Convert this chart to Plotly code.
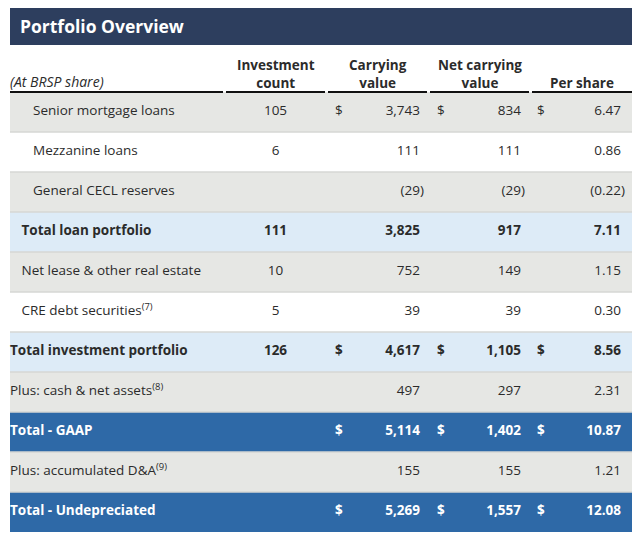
import plotly.graph_objects as go

# ---------------- data ----------------
title = "Portfolio Overview"
header_note = "(At BRSP share)"
column_headers = ["Investment<br>count", "Carrying<br>value", "Net carrying<br>value", "Per share"]

row_labels = [
    "Senior mortgage loans",
    "Mezzanine loans",
    "General CECL reserves",
    "Total loan portfolio",
    "Net lease & other real estate",
    "CRE debt securities<sup>(7)</sup>",
    "Total investment portfolio",
    "Plus: cash & net assets<sup>(8)</sup>",
    "Total - GAAP",
    "Plus: accumulated D&A<sup>(9)</sup>",
    "Total - Undepreciated",
]
investment_count = [105, 6, None, 111, 10, 5, 126, None, None, None, None]
carrying_value = [3743, 111, -29, 3825, 752, 39, 4617, 497, 5114, 155, 5269]
net_carrying_value = [834, 111, -29, 917, 149, 39, 1105, 297, 1402, 155, 1557]
per_share = [6.47, 0.86, -0.22, 7.11, 1.15, 0.30, 8.56, 2.31, 10.87, 1.21, 12.08]
show_dollar = [True, False, False, False, False, False, True, False, True, False, True]
row_kind = ["detail", "detail", "detail", "subtotal", "detail", "detail",
            "subtotal", "detail", "total", "detail", "total"]
indent_level = [2, 2, 2, 1, 1, 1, 0, 0, 0, 0, 0]

# ---------------- styles ----------------
FONT = "Open Sans"
FS = 13.5
W, H = 636, 533
NAVY = "#2D3E5E"
GRAY = "#E6E7E4"
WHITE = "#FFFFFF"
LIGHTBLUE = "#DDEBF7"
BLUE = "#2E69A7"
TXT = "#2B2B2B"
SEP = "#D6D7D4"

LEFT, RIGHT = 10, 632
ROW_TOP0, ROW_H = 92, 40
col_edges = [(10, 223), (226, 325), (328, 427), (430, 529), (532, 632)]
dollar_left = [335, 437, 537]
value_right = [420, 521, 621]

n = len(row_labels)
row_center = [ROW_TOP0 + ROW_H * i + ROW_H / 2 for i in range(n)]

# fills
fills = []
k = 0
for kind in row_kind:
    if kind == "detail":
        fills.append(GRAY if k % 2 == 0 else WHITE)
        k += 1
    else:
        fills.append(LIGHTBLUE if kind == "subtotal" else BLUE)
        k = 0

bold = [kind != "detail" for kind in row_kind]
txt_color = [WHITE if kind == "total" else TXT for kind in row_kind]


def fmt_int(v):
    if v is None:
        return ""
    s = f"{abs(v):,}"
    return f"({s})" if v < 0 else s


def fmt_dec(v):
    s = f"{abs(v):,.2f}"
    return f"({s})" if v < 0 else s


def b(s, flag):
    return f"<b>{s}</b>" if (flag and s) else s


fig = go.Figure()

# row backgrounds
fig.add_trace(go.Bar(
    orientation="h", y=row_center, x=[RIGHT - LEFT] * n, base=LEFT,
    width=ROW_H, marker=dict(color=fills, line=dict(width=0)),
    hoverinfo="skip", showlegend=False,
))

# label column
fig.add_trace(go.Scatter(
    x=[LEFT + 11.5 * lv for lv in indent_level], y=row_center, mode="text",
    text=[b(t, f) for t, f in zip(row_labels, bold)],
    textposition="middle right",
    textfont=dict(family=FONT, size=FS, color=txt_color),
    hoverinfo="skip", showlegend=False,
))

# investment count (centred)
fig.add_trace(go.Scatter(
    x=[(col_edges[1][0] + col_edges[1][1]) / 2] * n, y=row_center, mode="text",
    text=[b(fmt_int(v), f) for v, f in zip(investment_count, bold)],
    textposition="middle center",
    textfont=dict(family=FONT, size=FS, color=txt_color),
    hoverinfo="skip", showlegend=False,
))

# value columns: dollar sign + right aligned value
for ci, (vals, fmt) in enumerate([(carrying_value, fmt_int),
                                   (net_carrying_value, fmt_int),
                                   (per_share, fmt_dec)]):
    fig.add_trace(go.Scatter(
        x=[dollar_left[ci]] * n, y=row_center, mode="text",
        text=[b("$", f) if d else "" for d, f in zip(show_dollar, bold)],
        textposition="middle right",
        textfont=dict(family=FONT, size=FS, color=txt_color),
        hoverinfo="skip", showlegend=False,
    ))
    fig.add_trace(go.Scatter(
        x=[(value_right[ci] + (4 if v < 0 else 0)) for v in vals], y=row_center, mode="text",
        text=[b(fmt(v), f) for v, f in zip(vals, bold)],
        textposition="middle left",
        textfont=dict(family=FONT, size=FS, color=txt_color),
        hoverinfo="skip", showlegend=False,
    ))

shapes = []
# title bar
shapes.append(dict(type="rect", xref="x", yref="y", x0=LEFT, x1=RIGHT, y0=8, y1=45,
                   fillcolor=NAVY, line=dict(width=0), layer="below"))
# header underlines
for l, r in col_edges:
    shapes.append(dict(type="line", xref="x", yref="y", x0=l, x1=r, y0=92, y1=92,
                       line=dict(color="#111111", width=2)))
# row separators
for i in range(1, n):
    y = ROW_TOP0 + ROW_H * i
    shapes.append(dict(type="line", xref="x", yref="y", x0=LEFT, x1=RIGHT, y0=y, y1=y,
                       line=dict(color=SEP, width=1.5)))

annotations = [
    dict(x=LEFT + 8, y=26, xref="x", yref="y", text=f"<b>{title}</b>", showarrow=False,
         xanchor="left", yanchor="middle", font=dict(family=FONT, size=17.5, color=WHITE)),
    dict(x=LEFT - 2, y=93, xref="x", yref="y", text=f"<i>{header_note}</i>", showarrow=False,
         xanchor="left", yanchor="bottom", font=dict(family=FONT, size=14, color=TXT)),
]
for (l, r), h in zip(col_edges[1:], column_headers):
    annotations.append(dict(x=(l + r) / 2, y=94, xref="x", yref="y", text=f"<b>{h}</b>",
                            showarrow=False, xanchor="center", yanchor="bottom",
                            font=dict(family=FONT, size=13.5, color=TXT)))

fig.update_layout(
    width=W, height=H, margin=dict(l=0, r=0, t=0, b=0),
    paper_bgcolor="white", plot_bgcolor="white",
    xaxis=dict(range=[0, W], visible=False, fixedrange=True),
    yaxis=dict(range=[H, 0], visible=False, fixedrange=True),
    shapes=shapes, annotations=annotations, showlegend=False,
)

fig.write_html("out.html", config={"displayModeBar": False},
               post_script="document.body.style.margin='0';document.body.style.overflow='hidden';")
